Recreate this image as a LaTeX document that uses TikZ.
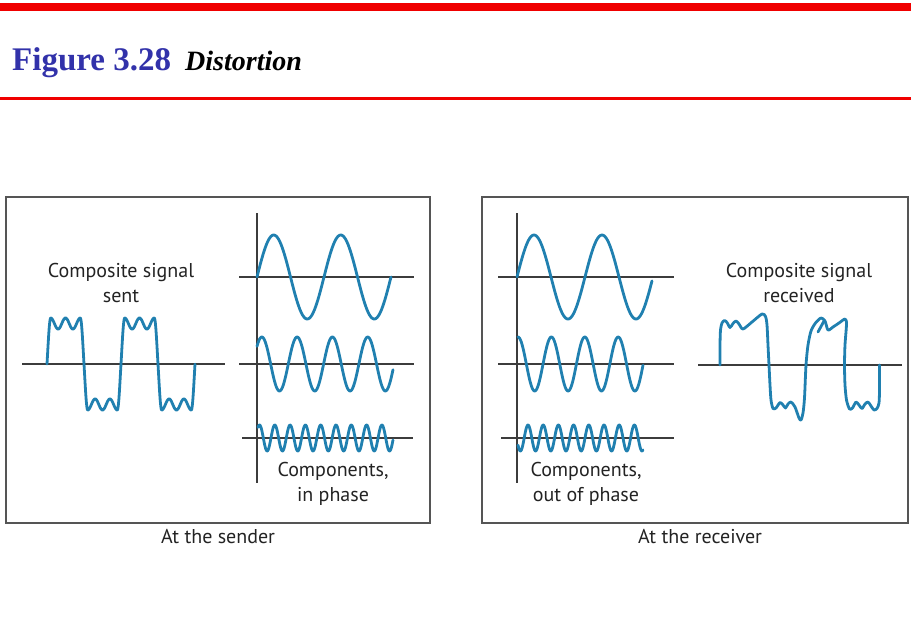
\documentclass[tikz,border=0pt]{standalone}
\usepackage{fontspec}
\setmainfont{Liberation Serif}
\newfontfamily\labelfont{PT Sans}
\definecolor{wavec}{RGB}{32,128,176}
\definecolor{axisc}{RGB}{60,60,60}
\definecolor{boxc}{RGB}{85,85,85}
\definecolor{titleblue}{RGB}{50,50,170}
\definecolor{txtc}{RGB}{35,35,35}
\definecolor{barred}{RGB}{240,0,0}
\tikzset{
  wave/.style={draw=wavec,line width=2.8pt,line join=round,line cap=round},
  axisline/.style={draw=axisc,line width=1.5pt},
  panel/.style={draw=boxc,line width=1.7pt},
  lbl/.style={font=\labelfont\fontsize{20}{25}\selectfont,text=txtc,align=center,inner sep=0pt},
}
\begin{document}
\begin{tikzpicture}[x=1pt,y=-1pt]
\useasboundingbox (0,0) rectangle (911,640);
% header
\fill[barred] (0,3) rectangle (911,11);
\draw[barred,line width=2.4pt] (0,98.5) -- (911,98.5);
\node[anchor=base west,inner sep=0pt,text=titleblue,font=\bfseries\fontsize{33}{33}\selectfont] (fig) at (12,70) {Figure 3.28};
\node[anchor=base west,inner sep=0pt,font=\bfseries\itshape\fontsize{28}{28}\selectfont] (dist) at (185,70) {Distortion};
% panels
\draw[panel] (6,197) rectangle (430,523);
\draw[panel] (482,197) rectangle (908,523);
\node[lbl] (snd) at (218,537) {At the sender};
\node[lbl] (rcv) at (700,537) {At the receiver};
% ---------- sender ----------
\node[lbl] (cs) at (121,283) {Composite signal\\sent};
\draw[axisline] (22,364) -- (225,364);
\foreach \xs/\s in {47/1,84/-1,121/1,158/-1}
  \draw[wave] plot[variable=\u,domain=0:1,samples=121]
    ({\xs+37*\u},{364-\s*46*sin(90*min(1,\u/0.1))*sin(90*min(1,(1-\u)/0.1))*(0.88+0.12*cos(900*(\u-0.1)))});
\draw[axisline] (257,213) -- (257,483);
\draw[axisline] (239,277) -- (414,277);
\draw[axisline] (239,364) -- (414,364);
\draw[axisline] (242,438) -- (413,438);
\draw[wave] plot[variable=\u,domain=257:391,samples=160] ({\u},{277-42*sin((\u-257)/67*360)});
\draw[wave] plot[variable=\u,domain=257:393,samples=200] ({\u},{364-27*sin((\u-253)/35.3*360)});
\draw[wave] plot[variable=\u,domain=258:393,samples=300] ({\u},{438-13*cos((\u-259.5)/15.3*360)});
\node[lbl] (cp1) at (333,484) {Components,\\in phase};
% ---------- receiver ----------
\draw[axisline] (517,213) -- (517,483);
\draw[axisline] (498,277) -- (674,277);
\draw[axisline] (498,364) -- (674,364);
\draw[axisline] (501,438) -- (674,438);
\draw[wave] plot[variable=\u,domain=517:652,samples=160] ({\u},{277-42*sin((\u-517)/68*360)});
\draw[wave] plot[variable=\u,domain=518:643,samples=200] ({\u},{364-27*cos((\u-518)/33.4*360)});
\draw[wave] plot[variable=\u,domain=518:643,samples=300] ({\u},{438-13*cos((\u-528)/15.2*360)});
\node[lbl] (cp2) at (586,484) {Components,\\out of phase};
\node[lbl] (cr) at (799,283) {Composite signal\\received};
\draw[axisline] (698,365) -- (902,365);
\draw[wave] plot[smooth,tension=0.45] coordinates {
 (720,365) (720,345) (720.5,330) (722,323) (724.5,320.5) (727,322.5) (730,327.5) (733,323.5) (736,321) (739,324) (743,329)
 (752,322) (762,314) (765.5,316.5) (767,325) (768,345) (769,365) (770,385) (771,400) (773,408.5) (776,408) (780,402.5)
 (783,405) (785.5,408) (788,404) (791,402) (795,407) (799,418) (801,420) (803,413) (804.5,398) (806,365)
 (808,345) (811,331) (815.5,323) (821,318) (825,321) (828,330) (833,327) (839,323) (845,319) (846.5,324) (845,345)
 (844.5,365) (845,385) (846.5,400) (849.5,409) (852.5,408) (856,402) (859,405) (862,408.5) (865,404) (868,402)
 (871,406) (874,410) (877,408.5) (879,403) (879.5,390) (879.5,365)};
\draw[wave] (818,332) -- (824,321);
\end{tikzpicture}
\end{document}
